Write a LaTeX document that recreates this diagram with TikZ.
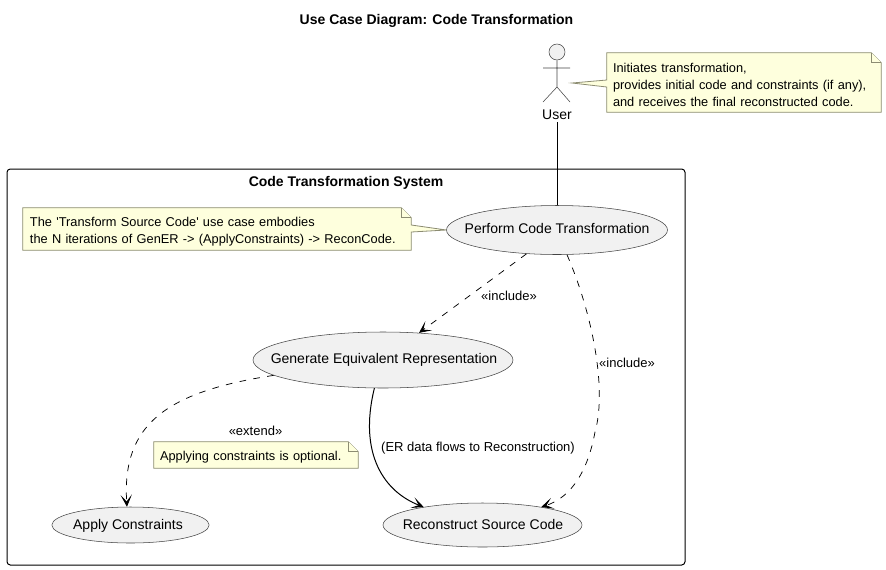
\documentclass[tikz,border=0pt]{standalone}
\usepackage{fontspec}
\setmainfont{Liberation Sans}
\usepackage{tikz}
\usetikzlibrary{arrows.meta,calc,shapes.geometric}
\definecolor{case-fill}{HTML}{F1F1F1}
\definecolor{line-dark}{HTML}{444444}
\definecolor{note-fill}{HTML}{FEFFDD}
\definecolor{note-line}{HTML}{8C8C72}
\tikzstyle{case-node}=[fill=case-fill,draw=line-dark,ellipse,line width=0.4pt,inner sep=0pt]
\tikzstyle{case-text}=[inner sep=0pt,font=\fontsize{10.5}{12.75}\selectfont]
\tikzstyle{note-node}=[rectangle,inner sep=0pt]
\tikzstyle{note-text}=[inner sep=0pt,align=left,font=\fontsize{9.6}{12.75}\selectfont]
\tikzstyle{note-line}=[fill=note-fill,draw=note-line,line width=0.6pt]
\tikzstyle{empty-node}=[inner sep=0pt,font=\fontsize{9.75}{12.75}\selectfont]
\tikzstyle{actor-line}=[draw=line-dark,line width=0.4pt]
\tikzstyle{black-line}=[draw=black,line width=0.75pt]
\tikzstyle{dash-line}=[draw=black,line width=0.55pt,dash pattern=on 5pt off 5.5pt]
\begin{document}
\begin{tikzpicture}[x=0.75pt,y=-0.75pt]
	\useasboundingbox (0,0) rectangle (886,569);
	\begin{scope}
	\node (title)[empty-node,font=\fontsize{10.5}{12.75}\selectfont\bfseries] at (436.5,20.5) {Use Case Diagram: Code Transformation};
	\node (frame)[draw=black,line width=0.75pt,rounded corners=2.5pt,minimum width=508.5pt,minimum height=297pt,inner sep=0pt] at (346,367) {};
	\node (system)[empty-node,font=\fontsize{10.5}{12.75}\selectfont\bfseries] at (346,182.5) {Code Transformation System};
	\end{scope}

	\begin{scope}
	\node (perform)[case-node,minimum width=165.75pt,minimum height=36.75pt] at (557,230) {};
	\node (generate)[case-node,minimum width=195pt,minimum height=42pt] at (383,360) {};
	\node (apply)[case-node,minimum width=118pt,minimum height=27pt] at (130.5,525) {};
	\node (recon)[case-node,minimum width=149.25pt,minimum height=33pt] at (482.5,525) {};
	\node (performtext)[case-text] at (557,228.5) {Perform Code Transformation};
	\node (generatetext)[case-text] at (384,359.5) {Generate Equivalent Representation};
	\node (applytext)[case-text] at (128,525.5) {Apply Constraints};
	\node (recontext)[case-text] at (483,524.5) {Reconstruct Source Code};
	\end{scope}

	% actor
	\begin{scope}
	\node (head)[circle,fill=case-fill,draw=line-dark,line width=0.4pt,minimum size=12pt,inner sep=0pt] at (557,52) {};
	\node (user)[empty-node,font=\fontsize{10.5}{12.75}\selectfont,inner sep=2pt] at (557,114.5) {User};
	\coordinate (hip) at (557,87);
	\coordinate (arml) at (543,68);
	\coordinate (armr) at (570,68);
	\coordinate (legl) at (543,102);
	\coordinate (legr) at (570,102);
	\path [actor-line] (head.south) -- (hip) (arml) -- (armr) (legl) -- (hip) -- (legr);
	\end{scope}

	% notes
	\begin{scope}
	\node (n1)[note-node,minimum width=205.5pt,minimum height=44.25pt] at (744,82.5) {};
	\coordinate (n1tip) at (572,83);
	\path [note-line] (n1.north west) -- ($(n1.west)+(0,-2.5)$) -- (n1tip) -- ($(n1.west)+(0,4.5)$) -- (n1.south west) -- (n1.south east) -- ($(n1.north east)+(0,10)$) -- ($(n1.north east)+(-10,0)$) -- cycle;
	\path [note-line] ($(n1.north east)+(-10,0)$) -- ($(n1.north east)+(-10,10)$) -- ($(n1.north east)+(0,10)$);
	\node (n1text)[note-text,text width=196.5pt] at (744,85) {Initiates transformation,\\provides initial code and constraints (if any),\\and receives the final reconstructed code.};

	\node (n2)[note-node,minimum width=291pt,minimum height=31.5pt] at (217,229) {};
	\path [note-line] (n2.north west) -- ($(n2.north east)+(-10,0)$) -- ($(n2.north east)+(0,10)$) -- ($(n2.east)+(0,-4)$) -- (perform.west) -- ($(n2.east)+(0,3)$) -- (n2.south east) -- (n2.south west) -- cycle;
	\path [note-line] ($(n2.north east)+(-10,0)$) -- ($(n2.north east)+(-10,10)$) -- ($(n2.north east)+(0,10)$);
	\node (n2text)[note-text,text width=282pt] at (218,231.5) {The \textquotesingle Transform Source Code\textquotesingle{} use case embodies\\the N iterations of GenER -> (ApplyConstraints) -> ReconCode.};

	\node (n3)[note-node,minimum width=153pt,minimum height=19.5pt] at (256,455) {};
	\path [note-line] (n3.north west) -- ($(n3.north east)+(-10,0)$) -- ($(n3.north east)+(0,10)$) -- (n3.south east) -- (n3.south west) -- cycle;
	\path [note-line] ($(n3.north east)+(-10,0)$) -- ($(n3.north east)+(-10,10)$) -- ($(n3.north east)+(0,10)$);
	\node (n3text)[note-text,text width=144pt] at (256,457) {Applying constraints is optional.};
	\end{scope}

	\begin{scope}[>={Stealth[black,length=9pt,width=8.5pt,inset=5pt]}, every edge/.style=black-line]
	\path (user.south) edge node {} (perform.north);
	\path [->] (perform.-142.5) edge [dash-line] node {} (generate.37.6);
	\path [->,dash-line] (perform.-68) .. controls (593,315) and (607,390) .. (595,432) .. controls (588,470) and (572,497) .. (recon.17);
	\path [->,dash-line] (generate.188.4) .. controls (165,392) and (122,425) .. (apply.101);
	\path [->,black-line] (generate.-107.8) .. controls (358,455) and (385,492) .. (recon.163);
	\end{scope}

	\begin{scope}
	\node (inc1)[empty-node] at (509,295.5) {«include»};
	\node (inc2)[empty-node] at (627,362.5) {«include»};
	\node (ext)[empty-node] at (255.5,430.5) {«extend»};
	\node (flow)[empty-node] at (478,448.5) {(ER data flows to Reconstruction)};
	\end{scope}
\end{tikzpicture}
\end{document}
